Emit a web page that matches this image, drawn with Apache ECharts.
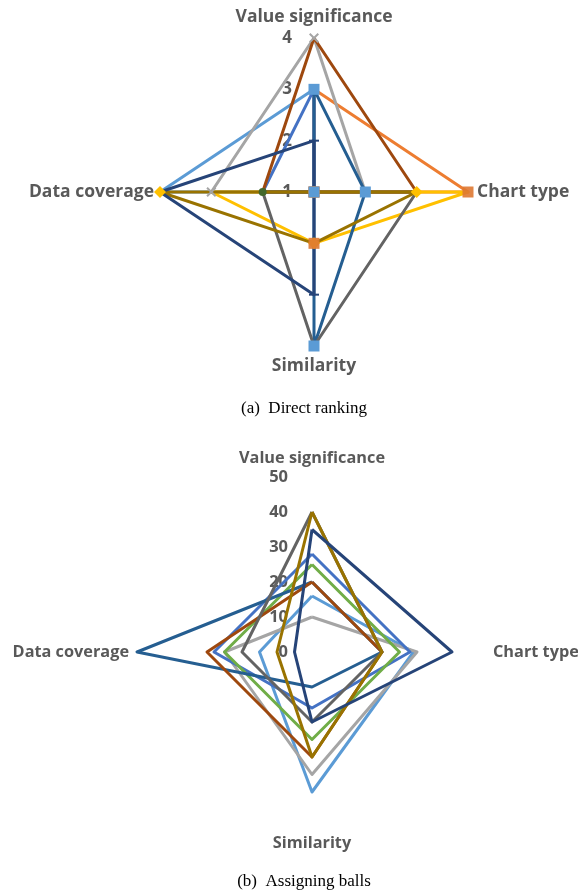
<!DOCTYPE html>
<html><head><meta charset="utf-8">
<script src="https://cdn.jsdelivr.net/npm/echarts@6/dist/echarts.min.js"></script>
<style>html,body{margin:0;padding:0;background:#fff;}#c{width:578px;height:894px;}</style>
</head><body><div id="c"></div>
<script>
// Axis names in natural (clockwise from top) order
const axesNames = ['Value significance', 'Chart type', 'Similarity', 'Data coverage'];
const topTicks = ['1', '2', '3', '4'];
const bottomTicks = ['0', '10', '20', '30', '40', '50'];

// (a) Direct ranking — values per series: [VS, CT, Sim, DC]
const topLightBlue = [3, 1, 1, 4];
const topOrange    = [3, 4, 1, 1];
const topGray      = [4, 2, 1, 3];
const topGold      = [1, 4, 2, 3];
const topBlue      = [3, 1, 1, 2];
const topGreen     = [1, 1, 1, 2];
const topDarkBlue  = [3, 2, 4, 1];
const topBrown     = [4, 3, 1, 2];
const topDarkGray  = [1, 3, 4, 2];
const topOlive     = [1, 3, 2, 4];
const topNavy      = [2, 1, 3, 4];
// which points of the gold series carry a visible marker
const topGoldMarked = [true, true, true, false];

// (b) Assigning balls — values per series: [VS, CT, Sim, DC]
const botLightBlue = [16, 29, 40, 15];
const botGray      = [10, 30, 35, 25];
const botBlue      = [28, 28, 16, 28];
const botGreen     = [25, 25, 25, 25];
const botDarkBlue  = [20, 20, 10, 50];
const botBrown     = [20, 20, 30, 30];
const botDarkGray  = [40, 20, 20, 20];
const botOlive     = [40, 20, 30, 10];
const botNavy      = [35, 40, 20, 5];

// ECharts places radar indicators counter-clockwise: reorder to [VS, DC, Sim, CT]
const order = [0, 3, 2, 1];
const ro = arr => order.map(i => arr[i]);

const FONT = 'Open Sans';
const TXT = '#595959';
const X_SYM = 'path://M0,1.4L1.4,0L10,8.6L8.6,10Z M8.6,0L10,1.4L1.4,10L0,8.6Z';
const DASH_SYM = 'path://M0,0L10,0L10,2L0,2Z';

function indicators(min, max, gaps) {
  return order.map(i => ({
    name: axesNames[i], min: min, max: max, nameGap: gaps[i],
    axisLabel: { show: i === 0 }
  }));
}

function radarCfg(center, radius, min, max, split, gaps, nameSize, labelSize, margin) {
  return {
    center: center, radius: radius, shape: 'polygon', startAngle: 90,
    splitNumber: split,
    indicator: indicators(min, max, gaps),
    axisName: { color: TXT, fontWeight: 'bold', fontSize: nameSize, fontFamily: FONT },
    axisLine: { show: false }, splitLine: { show: false }, splitArea: { show: false },
    axisTick: { show: false },
    axisLabel: { show: true, color: TXT, fontWeight: 'bold', fontSize: labelSize, fontFamily: FONT,
                 margin: margin, showMinLabel: true, showMaxLabel: true }
  };
}

function line(radarIndex, vals, color) {
  return {
    type: 'radar', radarIndex: radarIndex, silent: true, z: 2,
    symbol: 'none',
    lineStyle: { color: color, width: 3 },
    itemStyle: { color: color },
    data: [{ value: ro(vals) }]
  };
}
function marks(radarIndex, vals, sym, size, color) {
  return {
    type: 'radar', radarIndex: radarIndex, silent: true, z: 3,
    symbol: sym, symbolSize: size,
    lineStyle: { width: 0, opacity: 0 },
    itemStyle: { color: color, borderWidth: 0 },
    data: [{ value: ro(vals) }]
  };
}

const chart = echarts.init(document.getElementById('c'), null, { renderer: 'canvas' });
chart.setOption({
  animation: false,
  backgroundColor: '#fff',
  title: [
    { text: '(a)  Direct ranking', left: 299, top: 395, textAlign: 'center',
      textStyle: { fontFamily: 'Liberation Serif', fontWeight: 'normal', fontSize: 17, color: '#000' } },
    { text: '(b)  Assigning balls', left: 299, top: 868, textAlign: 'center',
      textStyle: { fontFamily: 'Liberation Serif', fontWeight: 'normal', fontSize: 17, color: '#000' } }
  ],
  radar: [
    radarCfg([314, 192], 154, 1, 4, 3, [12, 9, 11, 6], 17.5, 17, 22),
    radarCfg([312, 652], 175, 0, 50, 5, [11, 6, 8, 8], 16.3, 16.5, 24)
  ],
  series: [
    line(0, topLightBlue, '#5B9BD5'),
    line(0, topOrange, '#ED7D31'),
    line(0, topGray, '#A5A5A5'),
    line(0, topGold, '#FFC000'),
    line(0, topBlue, '#4472C4'),
    line(0, topGreen, '#70AD47'),
    line(0, topDarkBlue, '#255E91'),
    line(0, topBrown, '#9E480E'),
    line(0, topDarkGray, '#636363'),
    line(0, topOlive, '#997300'),
    line(0, topNavy, '#264478'),
    marks(0, topGreen, 'circle', 8, '#43682B'),
    marks(0, topGray, X_SYM, 10, '#A5A5A5'),
    marks(0, topNavy, DASH_SYM, [10, 2], '#264478'),
    marks(0, topOlive, 'diamond', 12, '#FFC000'),
    marks(0, topGold.map((v, i) => topGoldMarked[i] ? v : '-'), 'rect', 11, 'rgba(222,120,50,0.9)'),
    marks(0, topDarkBlue, 'rect', 11, '#5B9BD5'),

    line(1, botLightBlue, '#5B9BD5'),
    line(1, botGray, '#A5A5A5'),
    line(1, botBlue, '#4472C4'),
    line(1, botGreen, '#70AD47'),
    line(1, botDarkBlue, '#255E91'),
    line(1, botBrown, '#9E480E'),
    line(1, botDarkGray, '#636363'),
    line(1, botOlive, '#997300'),
    line(1, botNavy, '#264478')
  ]
});
</script></body></html>
